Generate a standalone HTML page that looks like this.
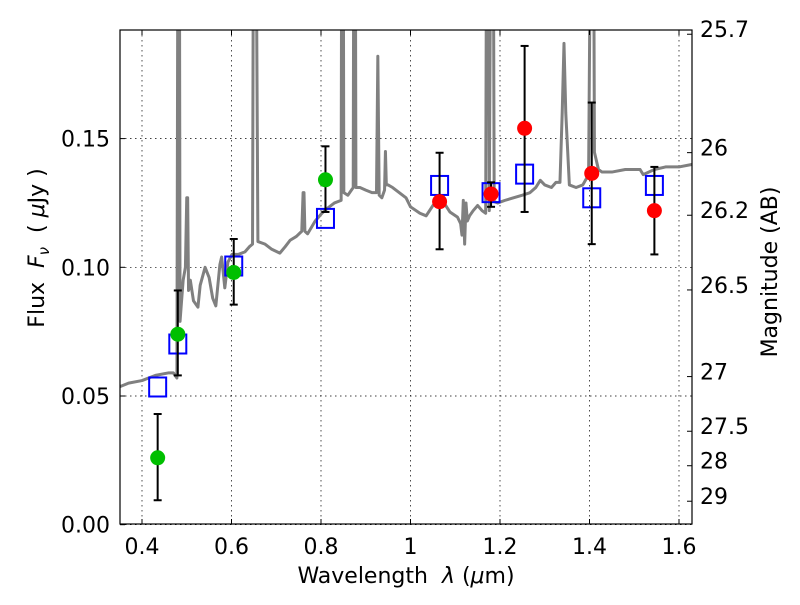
<!DOCTYPE html>
<html><head><meta charset="utf-8"><style>
body{margin:0;background:#fff}
svg text{font-family:"DejaVu Sans","Liberation Sans",sans-serif;font-size:22px;fill:#000}
svg text.title{font-size:22px}
</style></head><body>
<svg id="chart" width="800" height="600" viewBox="0 0 800 600" xmlns="http://www.w3.org/2000/svg">
<defs><clipPath id="clip"><rect x="120" y="30" width="572" height="494"/></clipPath></defs>
<rect width="800" height="600" fill="#fff"/>
<g id="grid"></g>
<g id="spec" clip-path="url(#clip)"></g>
<g id="marks" clip-path="url(#clip)"></g>
<rect x="120" y="30" width="572" height="494" fill="none" stroke="#000" stroke-width="1.2"/>
<g id="axes"></g>
<text class="title" x="406" y="583" text-anchor="middle" xml:space="preserve">Wavelength  <tspan font-style="italic">λ</tspan> (<tspan font-style="italic">μ</tspan>m)</text>
<text class="title" transform="translate(44,248) rotate(-90)" text-anchor="middle" xml:space="preserve">Flux  <tspan font-style="italic">F</tspan><tspan font-style="italic" font-size="15" dy="5">ν</tspan><tspan dy="-5">  ( </tspan><tspan font-style="italic">μ</tspan>Jy )</text>
<text class="title" transform="translate(777,272) rotate(-90)" text-anchor="middle">Magnitude (AB)</text>
</svg>
<script>
const xTicks=[0.4,0.6,0.8,1.0,1.2,1.4,1.6];
const xTickLabels=["0.4","0.6","0.8","1","1.2","1.4","1.6"];
const yTicks=[0,0.05,0.10,0.15];
const yTickLabels=["0.00","0.05","0.10","0.15"];
const magTicks=[25.7,26,26.2,26.5,27,27.5,28,29];
const magTickLabels=["25.7","26","26.2","26.5","27","27.5","28","29"];
const specLam=[0.35,0.37,0.40,0.43,0.46,0.47,0.478,0.481,0.483,0.485,0.488,0.492,0.497,0.500,0.502,0.504,0.508,0.515,0.525,0.530,0.541,0.550,0.558,0.565,0.574,0.578,0.585,0.592,0.601,0.615,0.630,0.640,0.647,0.650,0.653,0.659,0.675,0.690,0.708,0.720,0.731,0.745,0.757,0.760,0.762,0.764,0.770,0.787,0.802,0.815,0.830,0.845,0.847,0.849,0.851,0.860,0.872,0.874,0.876,0.878,0.887,0.900,0.914,0.924,0.927,0.930,0.936,0.942,0.944,0.946,0.950,0.960,0.975,0.990,1.0,1.021,1.035,1.050,1.066,1.075,1.088,1.105,1.112,1.115,1.118,1.121,1.124,1.127,1.132,1.140,1.150,1.160,1.168,1.171,1.173,1.176,1.181,1.184,1.187,1.195,1.211,1.230,1.250,1.267,1.280,1.290,1.300,1.315,1.325,1.334,1.339,1.343,1.347,1.355,1.370,1.385,1.398,1.405,1.408,1.411,1.420,1.428,1.450,1.480,1.505,1.513,1.520,1.545,1.570,1.600,1.630];
const specFlux=[0.0536,0.055,0.056,0.058,0.059,0.059,0.057,0.30,0.30,0.079,0.086,0.095,0.10,0.127,0.127,0.091,0.095,0.087,0.0845,0.093,0.100,0.096,0.088,0.085,0.101,0.104,0.092,0.102,0.105,0.105,0.106,0.108,0.109,0.30,0.30,0.110,0.109,0.107,0.1055,0.108,0.1105,0.112,0.114,0.129,0.129,0.114,0.113,0.118,0.121,0.123,0.125,0.126,0.30,0.30,0.129,0.128,0.131,0.30,0.30,0.131,0.131,0.130,0.129,0.129,0.182,0.128,0.127,0.130,0.145,0.132,0.132,0.131,0.129,0.127,0.1235,0.121,0.120,0.124,0.127,0.125,0.1215,0.1195,0.117,0.1125,0.126,0.109,0.125,0.118,0.120,0.122,0.124,0.122,0.121,0.30,0.30,0.122,0.30,0.30,0.1255,0.125,0.126,0.127,0.128,0.129,0.131,0.1338,0.132,0.131,0.133,0.133,0.16,0.187,0.16,0.132,0.131,0.132,0.136,0.30,0.30,0.1447,0.138,0.137,0.137,0.138,0.138,0.138,0.136,0.138,0.139,0.139,0.140,0.139];
const greenLam=[0.435,0.48,0.605,0.81];
const greenFlux=[0.026,0.074,0.098,0.134];
const greenLo=[0.0095,0.058,0.0855,0.1215];
const greenHi=[0.043,0.091,0.111,0.147];
const redLam=[1.065,1.18,1.255,1.405,1.545];
const redFlux=[0.1255,0.1285,0.154,0.1365,0.122];
const redLo=[0.107,0.1235,0.1215,0.109,0.105];
const redHi=[0.1445,0.133,0.186,0.164,0.139];
const modelLam=[0.435,0.48,0.605,0.81,1.065,1.18,1.255,1.405,1.545];
const modelFlux=[0.0535,0.0702,0.1005,0.119,0.1318,0.129,0.1362,0.127,0.1318];

const NS="http://www.w3.org/2000/svg";
const X=l=>142+(l-0.4)*447.5;
const Y=f=>524.7-f*2574;
const magY=m=>Y(Math.pow(10,(23.9-m)/2.5));
function el(tag,attrs,parent){const e=document.createElementNS(NS,tag);for(const k in attrs)e.setAttribute(k,attrs[k]);parent.appendChild(e);return e;}
const grid=document.getElementById('grid'),axes=document.getElementById('axes'),spec=document.getElementById('spec'),marks=document.getElementById('marks');
xTicks.forEach((t,i)=>{
 const g=el('line',{x1:X(t),x2:X(t),y1:30,y2:524,stroke:'#000','stroke-width':0.7,'stroke-dasharray':'1.5,3.5'},grid);
 
 
 el('line',{x1:X(t),x2:X(t),y1:524,y2:519,stroke:'#000'},axes);
 el('line',{x1:X(t),x2:X(t),y1:30,y2:35,stroke:'#000'},axes);
 const tx=el('text',{x:X(t),y:554,'text-anchor':'middle'},axes);tx.textContent=xTickLabels[i];
 
 
});
yTicks.forEach((t,i)=>{
 const g=el('line',{x1:120,x2:692,y1:Y(t),y2:Y(t),stroke:'#000','stroke-width':0.7,'stroke-dasharray':'1.5,3.5'},grid);
 
 
 el('line',{x1:120,x2:125,y1:Y(t),y2:Y(t),stroke:'#000'},axes);
 const tx=el('text',{x:110,y:Y(t)+8,'text-anchor':'end'},axes);tx.textContent=yTickLabels[i];
 
 
});
magTicks.forEach((m,i)=>{
 const y=magY(m);
 el('line',{x1:692,x2:687,y1:y,y2:y,stroke:'#000'},axes);
 const tx=el('text',{x:700,y:y+3,'text-anchor':'start'},axes);tx.textContent=magTickLabels[i];
 
 
});
const sp=el('polyline',{points:specLam.map((l,i)=>X(l)+','+Y(specFlux[i])).join(' '),fill:'none',stroke:'#808080','stroke-width':3,'stroke-linejoin':'round'},spec);


function errbars(lams,lo,hi){lams.forEach((l,i)=>{const x=X(l);
 const e=el('line',{x1:x,x2:x,y1:Y(lo[i]),y2:Y(hi[i]),stroke:'#000','stroke-width':2},marks);
 
 
 el('line',{x1:x-4,x2:x+4,y1:Y(lo[i]),y2:Y(lo[i]),stroke:'#000','stroke-width':2},marks);
 el('line',{x1:x-4,x2:x+4,y1:Y(hi[i]),y2:Y(hi[i]),stroke:'#000','stroke-width':2},marks);});}
modelLam.forEach((l,i)=>{
 const r=el('rect',{x:X(l)-8.5,y:Y(modelFlux[i])-9.5,width:17,height:19,fill:'none',stroke:'#0000ff','stroke-width':2},marks);
 
 
});
errbars(greenLam,greenLo,greenHi);
errbars(redLam,redLo,redHi);
greenLam.forEach((l,i)=>{
 const c=el('circle',{cx:X(l),cy:Y(greenFlux[i]),r:7.5,fill:'#00bf00'},marks);
 
 
});
redLam.forEach((l,i)=>{
 const c=el('circle',{cx:X(l),cy:Y(redFlux[i]),r:7.5,fill:'#ff0000'},marks);
 
 
});
</script>
</body></html>
